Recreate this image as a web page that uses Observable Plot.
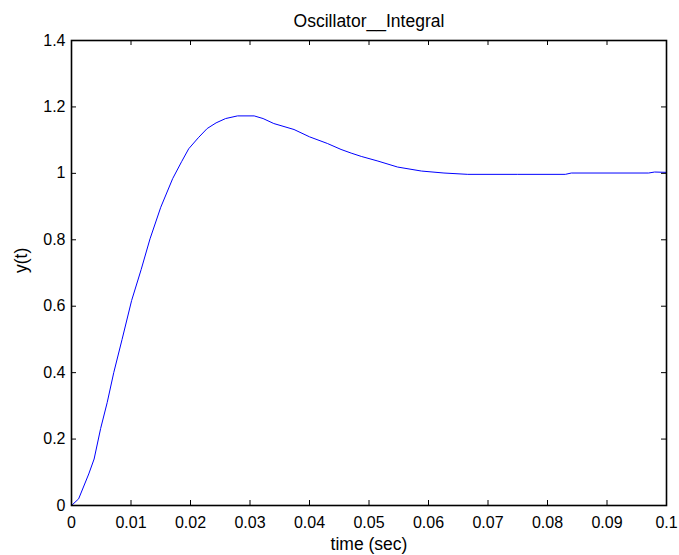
<!DOCTYPE html>
<html>
<head>
<meta charset="utf-8">
<script src="https://cdn.jsdelivr.net/npm/d3@7"></script>
<script src="https://cdn.jsdelivr.net/npm/@observablehq/plot@0.6"></script>
<style>
  html, body { margin: 0; padding: 0; background: #fff; }
  svg { display: block; }
</style>
</head>
<body>
<div id="chart"></div>
<script>
const titleText = "Oscillator__Integral";
const xLabel = "time (sec)";
const yLabel = "y(t)";

const time = [0, 0.0012, 0.0029, 0.0038, 0.0049, 0.006, 0.0071, 0.0085, 0.0101, 0.0117,
  0.0132, 0.015, 0.017, 0.0185, 0.0197, 0.0213, 0.0228, 0.0243, 0.0259, 0.0279,
  0.0307, 0.0322, 0.034, 0.0374, 0.040, 0.043, 0.0453, 0.047, 0.0487, 0.0515,
  0.0548, 0.0588, 0.0626, 0.0666, 0.075, 0.083, 0.084, 0.09, 0.097, 0.098, 0.1];
const output = [0, 0.02, 0.095, 0.14, 0.232, 0.31, 0.40, 0.50, 0.617, 0.71,
  0.803, 0.898, 0.984, 1.035, 1.074, 1.107, 1.135, 1.152, 1.165, 1.173,
  1.173, 1.165, 1.15, 1.132, 1.11, 1.09, 1.072, 1.061, 1.051, 1.037,
  1.019, 1.007, 1.001, 0.997, 0.997, 0.997, 1.001, 1.001, 1.001, 1.004, 1.003];

const xTicks = [0, 0.01, 0.02, 0.03, 0.04, 0.05, 0.06, 0.07, 0.08, 0.09, 0.1];
const yTicks = [0, 0.2, 0.4, 0.6, 0.8, 1, 1.2, 1.4];

const data = time.map((t, i) => ({t, y: output[i]}));

const W = 679, H = 555;
const mL = 71, mR = 13, mT = 40, mB = 50;
const innerW = W - mL - mR, innerH = H - mT - mB;
const tickLen = 5;

const chart = Plot.plot({
  width: W,
  height: H,
  marginLeft: mL,
  marginRight: mR,
  marginTop: mT,
  marginBottom: mB,
  style: {fontFamily: "'Liberation Sans', Arial, sans-serif", fontSize: "16px", color: "black", background: "white"},
  x: {domain: [0, 0.1]},
  y: {domain: [0, 1.4]},
  marks: [
    Plot.line(data, {x: "t", y: "y", stroke: "#0000ff", strokeWidth: 1}),
    // inward ticks on all four sides
    Plot.tickX(xTicks, {x: d => d, insetTop: innerH - tickLen, stroke: "black"}),
    Plot.tickX(xTicks, {x: d => d, insetBottom: innerH - tickLen, stroke: "black"}),
    Plot.tickY(yTicks, {y: d => d, insetRight: innerW - tickLen, stroke: "black"}),
    Plot.tickY(yTicks, {y: d => d, insetLeft: innerW - tickLen, stroke: "black"}),
    Plot.frame({stroke: "black", strokeWidth: 1.6}),
    Plot.axisX(xTicks, {tickSize: 0, tickPadding: 11, tickFormat: d => String(d), label: null, fontSize: 16}),
    Plot.axisY(yTicks, {tickSize: 0, tickPadding: 6, tickFormat: d => String(d), label: null, fontSize: 16}),
    Plot.text([titleText], {text: d => d, frameAnchor: "top", lineAnchor: "middle", dy: -19, fontSize: 17.5, fill: "black"}),
    Plot.text([xLabel], {text: d => d, frameAnchor: "bottom", lineAnchor: "middle", dy: 39, fontSize: 17.5, fill: "black"}),
    Plot.text([yLabel], {text: d => d, frameAnchor: "left", lineAnchor: "middle", dx: -50, rotate: -90, fontSize: 17.5, fill: "black"})
  ]
});
document.getElementById("chart").appendChild(chart);
</script>
</body>
</html>
